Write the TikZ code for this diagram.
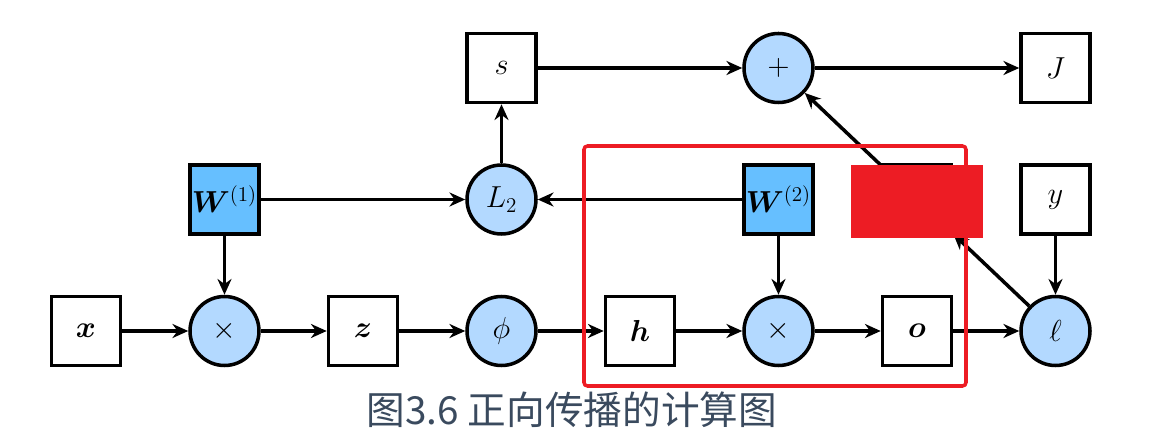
\documentclass[tikz,border=0pt]{standalone}
\usepackage{amsmath}
\usepackage{amssymb}
\usepackage{bm}
\usepackage{xcolor}
\usepackage{fontspec}
\newfontfamily\cjk{Noto Sans CJK SC}
\usepackage{tikz}
\usetikzlibrary{arrows.meta, positioning}

\definecolor{nodeblue}{RGB}{179,217,255}
\definecolor{paramblue}{RGB}{102,191,255}
\definecolor{markred}{RGB}{237,28,36}
\definecolor{captiongray}{RGB}{58,74,94}

\begin{document}
\begin{tikzpicture}[
        on grid,
        node distance={2.63cm and 2.77cm},
        >={Stealth[length=9pt,width=8pt]},
        line width=2pt,
        every node/.style={font=\fontsize{18}{21}\selectfont},
        var/.style={
            rectangle,
            draw,
            fill=white,
            minimum size=1.38cm,
            inner sep=0pt
        },
        param/.style={
            var,
            fill=paramblue
        },
        op/.style={
            circle,
            draw,
            fill=nodeblue,
            minimum size=1.38cm,
            inner sep=0pt
        }
    ]
    \useasboundingbox (0,0) rectangle (23.02,-8.78);

    % Nodes
    \node[var] (x) at (1.72,-6.62) {$\bm{x}$};
    \node[op, right=of x] (mul1) {$\times$};
    \node[var, right=of mul1] (z) {$\bm{z}$};
    \node[op, right=of z] (phi) {$\phi$};
    \node[var, right=of phi] (h) {$\bm{h}$};
    \node[op, right=of h] (mul2) {$\times$};
    \node[var, right=of mul2] (o) {$\bm{o}$};
    \node[op, right=of o] (loss) {$\ell$};

    \node[param, above=of mul1] (W1) {$\bm{W}^{(1)}$};
    \node[op, above=of phi] (L2) {$L_2$};
    \node[param, above=of mul2] (W2) {$\bm{W}^{(2)}$};
    \node[var, above=of o] (hidden) {};
    \node[var, above=of loss] (y) {$y$};

    \node[var, above=of L2] (s) {$s$};
    \node[op, above=of W2] (plus) {$+$};
    \node[var, above=of y] (J) {$J$};

    % Arrows
    \draw[->] (x) -- (mul1);
    \draw[->] (W1) -- (mul1);
    \draw[->] (mul1) -- (z);
    \draw[->] (z) -- (phi);
    \draw[->] (phi) -- (h);
    \draw[->] (h) -- (mul2);
    \draw[->] (W2) -- (mul2);
    \draw[->] (mul2) -- (o);
    \draw[->] (o) -- (loss);
    \draw[->] (y) -- (loss);
    \draw[->] (loss) -- (hidden);
    \draw[->] (hidden) -- (plus);
    \draw[->] (W1) -- (L2);
    \draw[->] (W2) -- (L2);
    \draw[->] (L2) -- (s);
    \draw[->] (s) -- (plus);
    \draw[->] (plus) -- (J);

    % Marks
    \fill[markred] (17.02,-3.30) rectangle (19.66,-4.76);
    \draw[markred, rounded corners=2pt] (11.68,-2.92) rectangle (19.32,-7.72);

    % Caption
    \node[anchor=base, text=captiongray, font=\cjk\fontsize{22}{26}\selectfont] (caption) at (11.44,-8.5) {图3.6 正向传播的计算图};

\end{tikzpicture}
\end{document}
